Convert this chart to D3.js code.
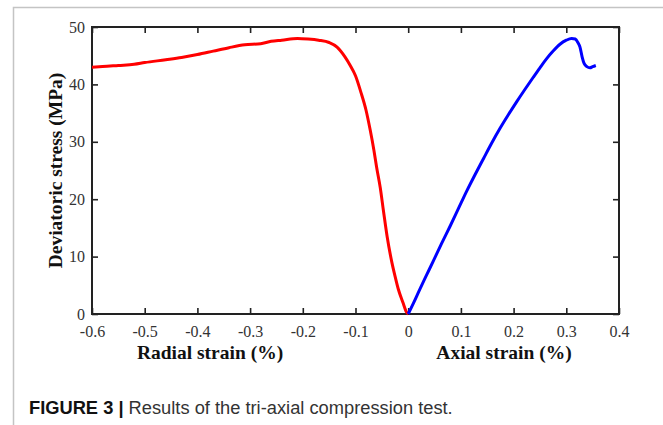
<!DOCTYPE html>
<html>
<head>
<meta charset="utf-8">
<script src="https://cdn.jsdelivr.net/npm/d3@7"></script>
<style>
  body { margin: 0; background: #fff; }
  svg { display: block; }
</style>
</head>
<body>
<script>
// radial strain branch (red), strain in %, stress in MPa
var radialStrain = [-0.600, -0.580, -0.550, -0.520, -0.500, -0.460, -0.430, -0.400, -0.370, -0.340,
  -0.310, -0.280, -0.260, -0.240, -0.210, -0.190, -0.170, -0.150, -0.135, -0.120,
  -0.110, -0.100, -0.090, -0.080, -0.072, -0.065, -0.060, -0.053, -0.047, -0.040,
  -0.031, -0.025, -0.019, -0.010, -0.003, 0];
var radialStress = [43.0, 43.1, 43.3, 43.5, 43.8, 44.3, 44.7, 45.2, 45.8, 46.4,
  46.9, 47.1, 47.5, 47.7, 48.0, 47.9, 47.7, 47.3, 46.5, 44.8,
  43.3, 41.5, 38.7, 35.5, 32.0, 28.5, 25.6, 22.0, 18.0, 13.5,
  9.0, 6.6, 4.4, 2.0, 0.3, 0];

// axial strain branch (blue)
var axialStrain = [0, 0.010, 0.022, 0.035, 0.048, 0.063, 0.079, 0.095, 0.111, 0.127,
  0.143, 0.158, 0.174, 0.190, 0.206, 0.222, 0.237, 0.250, 0.262, 0.275,
  0.288, 0.300, 0.310, 0.317, 0.322, 0.326, 0.330, 0.334, 0.339, 0.345,
  0.350, 0.356];
var axialStress = [0, 1.9, 4.3, 6.8, 9.3, 12.2, 15.2, 18.3, 21.4, 24.3,
  27.1, 29.7, 32.3, 34.7, 37.0, 39.2, 41.2, 42.9, 44.4, 45.8,
  47.0, 47.7, 48.0, 47.9, 47.3, 46.5, 44.8, 43.6, 43.1, 42.9,
  43.1, 43.3];

var xTicks = [-0.6, -0.5, -0.4, -0.3, -0.2, -0.1, 0, 0.1, 0.2, 0.3, 0.4];
var yTicks = [0, 10, 20, 30, 40, 50];

var width = 663, height = 425;
var mLeft = 92, mRight = 619, mTop = 27, mBottom = 314;

var svg = d3.select("body").append("svg")
  .attr("width", width)
  .attr("height", height);

// light frame of the figure panel
svg.append("path")
  .attr("d", "M13.5," + height + "V7.5H" + width)
  .attr("fill", "none")
  .attr("stroke", "#c4c4c4")
  .attr("stroke-width", 1.5);

var x = d3.scaleLinear().domain([-0.6, 0.4]).range([mLeft, mRight]);
var y = d3.scaleLinear().domain([0, 50]).range([mBottom, mTop]);

// plain hyphen for negatives, like the original
var fmt = function(d){ return d === 0 ? "0" : d3.format(".1f")(d).replace("\u2212", "-"); };

function styleAxis(g) {
  g.select(".domain").remove();
  g.selectAll("line").attr("stroke", "#222").attr("stroke-width", 1.6);
  g.selectAll("text")
    .attr("font-family", "'Liberation Serif', 'Times New Roman', serif")
    .attr("font-size", "16px")
    .attr("fill", "#333");
}

// bottom + left with labels, ticks pointing in
svg.append("g")
  .attr("transform", "translate(0," + mBottom + ")")
  .call(d3.axisBottom(x).tickValues(xTicks).tickFormat(fmt).tickSizeInner(-6).tickSizeOuter(0).tickPadding(12))
  .call(styleAxis);

svg.append("g")
  .attr("transform", "translate(" + mLeft + ",0)")
  .call(d3.axisLeft(y).tickValues(yTicks).tickSizeInner(-6).tickSizeOuter(0).tickPadding(7))
  .call(styleAxis);

// top + right, ticks only
svg.append("g")
  .attr("transform", "translate(0," + mTop + ")")
  .call(d3.axisTop(x).tickValues(xTicks).tickFormat("").tickSizeInner(-6).tickSizeOuter(0))
  .call(styleAxis);

svg.append("g")
  .attr("transform", "translate(" + mRight + ",0)")
  .call(d3.axisRight(y).tickValues(yTicks).tickFormat("").tickSizeInner(-6).tickSizeOuter(0))
  .call(styleAxis);

// box
svg.append("rect")
  .attr("x", mLeft).attr("y", mTop)
  .attr("width", mRight - mLeft).attr("height", mBottom - mTop)
  .attr("fill", "none")
  .attr("stroke", "#222")
  .attr("stroke-width", 2);

var line = d3.line()
  .x(function(d){ return x(d[0]); })
  .y(function(d){ return y(d[1]); })
  .curve(d3.curveMonotoneX);

svg.append("path")
  .datum(d3.zip(radialStrain, radialStress))
  .attr("d", line)
  .attr("fill", "none")
  .attr("stroke", "#ff0000")
  .attr("stroke-width", 3)
  .attr("stroke-linejoin", "round");

svg.append("path")
  .datum(d3.zip(axialStrain, axialStress))
  .attr("d", line)
  .attr("fill", "none")
  .attr("stroke", "#0000ff")
  .attr("stroke-width", 3)
  .attr("stroke-linejoin", "round");

// axis titles
var serifBold = function(t){
  return t.attr("font-family", "'Liberation Serif', 'Times New Roman', serif")
    .attr("font-weight", "bold")
    .attr("font-size", "19.5px")
    .attr("fill", "#111");
};

svg.append("text").call(serifBold)
  .attr("x", 210).attr("y", 359)
  .attr("text-anchor", "middle")
  .text("Radial strain (%)");

svg.append("text").call(serifBold)
  .attr("x", 504).attr("y", 359)
  .attr("text-anchor", "middle")
  .text("Axial strain (%)");

svg.append("text").call(serifBold)
  .attr("transform", "translate(62," + ((mTop + mBottom) / 2) + ") rotate(-90)")
  .attr("text-anchor", "middle")
  .text("Deviatoric stress (MPa)");

// caption
var cap = svg.append("text")
  .attr("x", 29).attr("y", 414)
  .attr("font-family", "'Liberation Sans', Arial, sans-serif")
  .attr("font-size", "18.3px")
  .attr("fill", "#111");
cap.append("tspan").attr("font-weight", "bold").text("FIGURE 3 | ");
cap.append("tspan").attr("fill", "#333").text("Results of the tri-axial compression test.");
</script>
</body>
</html>
